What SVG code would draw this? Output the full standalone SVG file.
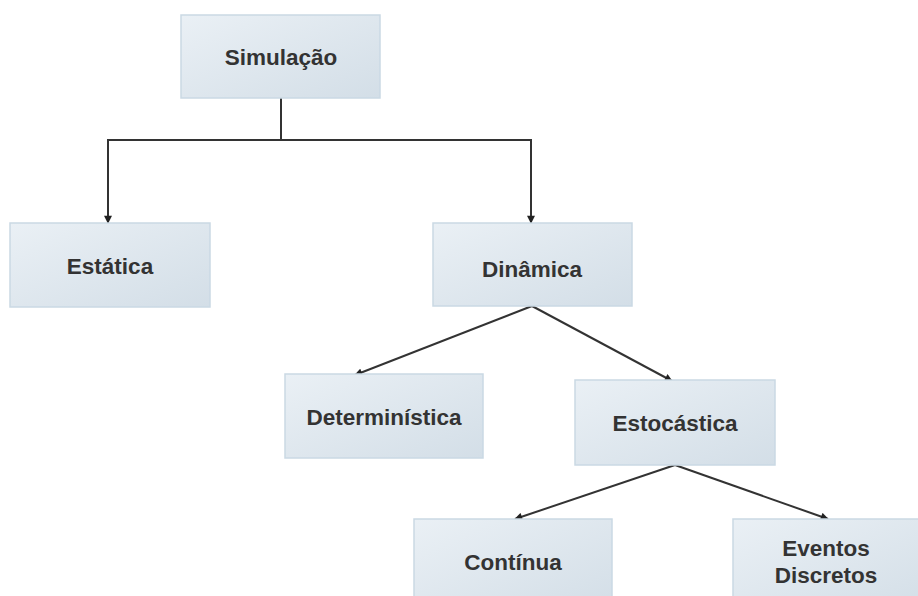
<svg xmlns="http://www.w3.org/2000/svg" width="918" height="596" viewBox="0 0 918 596">
  <defs>
    <linearGradient id="boxFill" x1="0" y1="0" x2="1" y2="1">
      <stop offset="0" stop-color="#eaf0f5"/>
      <stop offset="1" stop-color="#d3dee7"/>
    </linearGradient>
    <marker id="arrow" viewBox="0 0 10 10" refX="9" refY="5" markerWidth="9" markerHeight="8" markerUnits="userSpaceOnUse" orient="auto">
      <path d="M0,0 L10,5 L0,10 z" fill="#222"/>
    </marker>
    <style>
      .box { fill: url(#boxFill); stroke: #cad9e4; stroke-width: 1.5; }
      .label { font-family: "Liberation Sans", Arial, sans-serif; font-weight: bold; font-size: 22.5px; fill: #333; text-anchor: middle; }
      .edge { fill: none; stroke: #333; stroke-width: 2; marker-end: url(#arrow); }
    </style>
  </defs>
  <rect width="918" height="596" fill="#fff"/>

  <g id="connectors">
    <path class="edge" d="M281,98 V140 H108 V223"/>
    <path class="edge" d="M281,140 H531 V223"/>
    <path class="edge" d="M532,306 L355,375"/>
    <path class="edge" d="M532,306 L672,381"/>
    <path class="edge" d="M675,465 L515,519"/>
    <path class="edge" d="M675,465 L828,519"/>
  </g>

  <g id="simulacao">
    <rect class="box" x="181" y="15" width="199" height="83"/>
    <text class="label" x="281" y="65">Simulação</text>
  </g>
  <g id="estatica">
    <rect class="box" x="10" y="223" width="200" height="84"/>
    <text class="label" x="110" y="274">Estática</text>
  </g>
  <g id="dinamica">
    <rect class="box" x="433" y="223" width="199" height="83"/>
    <text class="label" x="532" y="277">Dinâmica</text>
  </g>
  <g id="deterministica">
    <rect class="box" x="285" y="374" width="198" height="84"/>
    <text class="label" x="384" y="425">Determinística</text>
  </g>
  <g id="estocastica">
    <rect class="box" x="575" y="380" width="200" height="85"/>
    <text class="label" x="675" y="431">Estocástica</text>
  </g>
  <g id="continua">
    <rect class="box" x="414" y="519" width="198" height="90"/>
    <text class="label" x="513" y="570">Contínua</text>
  </g>
  <g id="eventos-discretos">
    <rect class="box" x="733" y="519" width="200" height="90"/>
    <text class="label" x="826" y="556">Eventos</text>
    <text class="label" x="826" y="583">Discretos</text>
  </g>
</svg>
